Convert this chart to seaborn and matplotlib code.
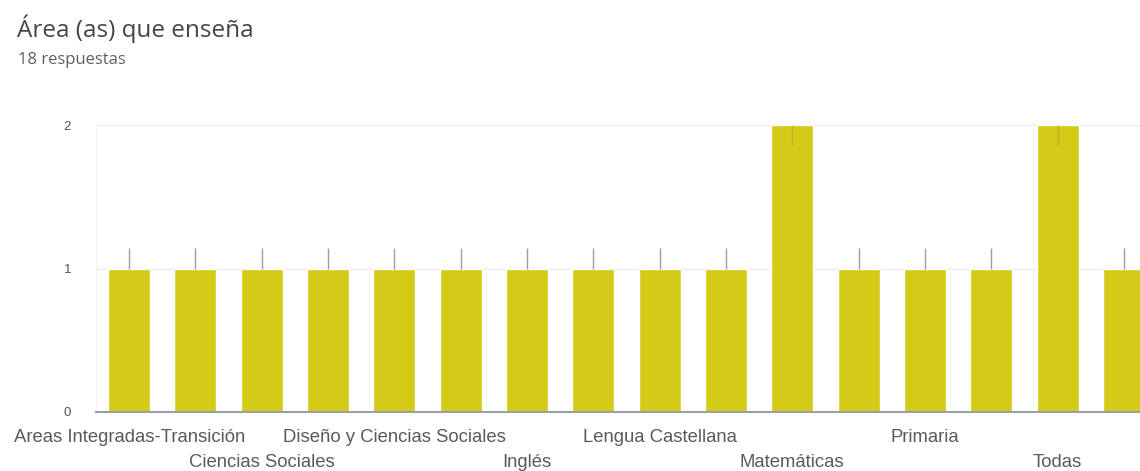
import seaborn as sns
import pandas as pd
from matplotlib import pyplot as plt

# categorias (orden alfabetico como en Google Forms)
areas = ['Areas Integradas-Transición', 'Artística', 'Ciencias Sociales', 'Ciencias Naturales',
         'Diseño y Ciencias Sociales', 'Educación Física', 'Inglés', 'Lengua',
         'Lengua Castellana', 'Lengua y Matemáticas', 'Matemáticas', 'Matemáticas y Física',
         'Primaria', 'Tecnología', 'Todas', 'Transición']
respuestas = [1, 1, 1, 1, 1, 1, 1, 1, 1, 1, 2, 1, 1, 1, 2, 1]

df = pd.DataFrame({'Area': areas, 'Respuestas': respuestas})

sns.set_style('white')
plt.rcParams['font.family'] = ['Liberation Sans', 'DejaVu Sans']

fig = plt.figure(figsize=(11.4, 4.71), dpi=100)
ax = fig.add_axes([0.0842, 0.1253, 0.9307, 0.609])

sns.barplot(data=df, x='Area', y='Respuestas', color='#d4ca18', width=0.633,
            saturation=1, ax=ax)

# lineas de anotacion sobre las barras
ymax = max(respuestas)
for i, v in enumerate(respuestas):
    if v < ymax:
        ax.vlines(i, v, v + 0.14, color='#9e9e9e', lw=1, zorder=3)
    else:
        ax.vlines(i, v - 0.14, v, color='#bdb422', lw=1, zorder=3)

ax.set_xlim(-0.5, len(areas) - 0.5)
ax.set_ylim(0, 2)
ax.set_yticks([0, 1, 2])
ax.set_yticklabels(['0', '1', '2'], fontsize=9.5, color='#555555')
ax.tick_params(axis='y', length=0, pad=18)
ax.yaxis.grid(True, color='#ececec', lw=1)
ax.set_axisbelow(True)

labels = [a if i % 2 == 0 else '' for i, a in enumerate(areas)]
ax.set_xticks(range(len(areas)))
ax.set_xticklabels(labels, fontsize=13.3, color='#5a5a5a')
ax.tick_params(axis='x', length=0, pad=12)
for i, tick in enumerate(ax.xaxis.get_major_ticks()):
    if i % 4 == 2:
        tick.set_pad(30.5)

ax.set_xlabel('')
ax.set_ylabel('')
for s in ['top', 'right']:
    ax.spines[s].set_visible(False)
ax.spines['left'].set_color('#f0f0f0')
ax.spines['bottom'].set_color('#9aa0a6')
ax.spines['bottom'].set_linewidth(1.5)

fig.text(0.015, 0.939, 'Área (as) que enseña', fontsize=17.5, color='#444444',
         family=['Open Sans', 'DejaVu Sans'], va='center')
fig.text(0.016, 0.873, '18 respuestas', fontsize=12, color='#606060',
         family=['Open Sans', 'DejaVu Sans'], va='center')

plt.savefig('out.png', dpi=100)
